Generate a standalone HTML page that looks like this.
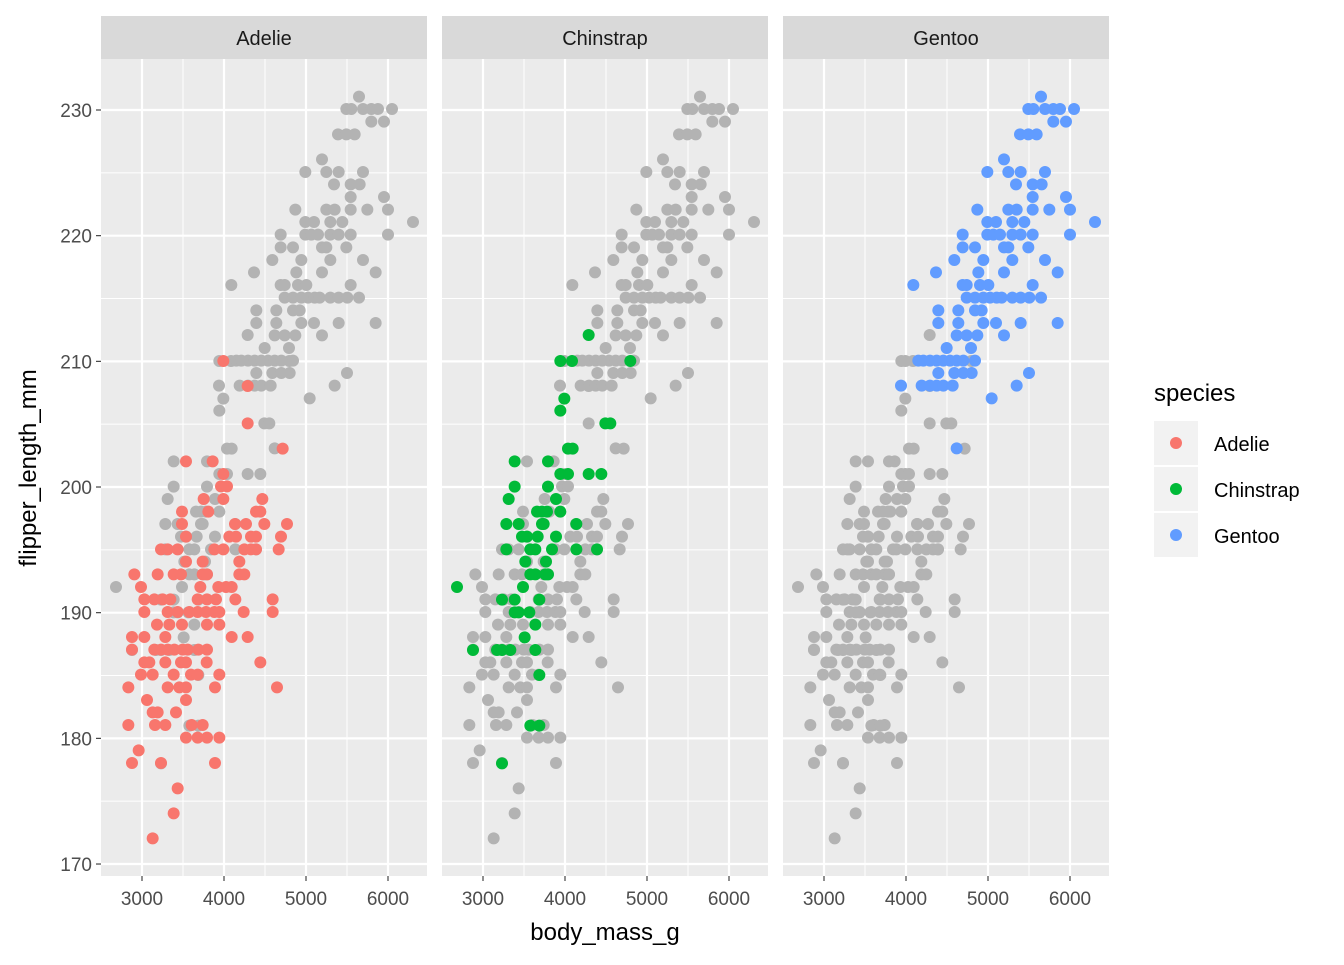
<!DOCTYPE html>
<html><head><meta charset="utf-8"><style>
html,body{margin:0;padding:0;background:#fff}
svg text{font-family:"Liberation Sans",Arial,sans-serif}
</style></head><body>
<svg id="s" width="1344" height="960" xmlns="http://www.w3.org/2000/svg"></svg>
<script>
const NS="http://www.w3.org/2000/svg";const S=document.getElementById('s');
function el(t,a,txt){const e=document.createElementNS(NS,t);for(const k in a)e.setAttribute(k,a[k]);if(txt!=null)e.textContent=txt;S.appendChild(e);return e;}
const A=[[63,[367]],[138,[440]],[250,[440]],[326,[545]],[364,[255,335]],[402,[367]],[439,[360,378]],[477,[308,367,484]],[515,[243,322,465,478]],[552,[243,402,435,490,558]],[590,[255,385,405,450,465,540]],[628,[180,200,230,340,367,430,450,465,533]],[665,[255,305,415]],[703,[100,170,218,240,305,318,415,430]],[741,[120,298,352,375,392]],[778,[130,160,185,208,290,318,345,403,515]],[816,[130,200,230,265,290,315,340,355,428,515]],[854,[168,205,243,318,355]],[891,[93,130,193,392,440]],[929,[93,160,180,200,220,245,260,292,318]],[967,[130,145,193,240,255,317,478]],[1004,[120,155,218,270,290,355]],[1042,[82,200,235,255,342,528]],[1080,[138,255]],[1117,[155,170,225]],[1155,[82,162,193,272,305]],[1193,[255,290,318,355]],[1231,[113]],[1269,[93,180,342]],[1345,[230]],[1420,[218]],[1495,[155]]];
const C=[[45,[440]],[123,[355,390,565]],[236,[367]],[272,[355]],[310,[490,505]],[386,[378,392]],[424,[218,318]],[462,[355,378,440,478]],[500,[218,318]],[537,[200,342]],[575,[285,300,315,355]],[612,[193,230,300,305,403]],[650,[240,255,287,342]],[688,[193,265,280,330,403,465]],[725,[250,312]],[763,[265,280,310,318]],[801,[45,243]],[839,[180,218,292]],[877,[218,230,262]],[914,[280]],[952,[248]],[990,[93,165,180,205,280]],[1065,[292]],[1217,[265,292]],[1330,[180]]];
const G=[[35,[453]],[72,[415,430,465,490,510,552]],[110,[490,528]],[148,[390,415,440]],[223,[342]],[261,[292,355,392,465]],[298,[378,428,455]],[336,[428,528]],[374,[262,355,380,428,478,540]],[411,[292,318,367,403,615]],[449,[218,292,310,330,367,392,428,540]],[487,[218,255,342,355,415]],[525,[193,280,367,465]],[562,[138,265,342,503]],[600,[70,218,230,270,295,428]],[638,[230,255,280,300,320,335,367,392,418,453]],[676,[145,205,255,275]],[714,[145,205,280,318,392,503]],[751,[200,230,262,342]],[789,[170,243]],[827,[85,100,120,140,160,180,200,220,255]],[864,[145,193,220,245,417]],[902,[33,95,120,140,160,188,380]],[940,[305]],[1090,[200]]];
function conv(d,ox,oy){const r=[];d.forEach(([zy,xs])=>xs.forEach(zx=>r.push([ox+zx/3,oy+zy/3])));return r;}
const P=[conv(A,101,340),conv(C,101,320),conv(G,208,85)];
const cols=["#F8766D","#00BA38","#619CFF"];
const names=["Adelie","Chinstrap","Gentoo"];
const offs=[0,341,682];
const yv=v=>110+(230-v)*12.567;
const xv=v=>142+(v-3000)*0.082;
for(let p=0;p<3;p++){
 const o=offs[p],L=101+o,R=427+o;
 el('rect',{x:L,y:59,width:326,height:817,fill:'#EBEBEB'});
 for(let v=175;v<=225;v+=10)el('line',{x1:L,x2:R,y1:yv(v),y2:yv(v),stroke:'#fff','stroke-width':1});
 for(let v=3500;v<=5500;v+=1000)el('line',{x1:xv(v)+o,x2:xv(v)+o,y1:59,y2:876,stroke:'#fff','stroke-width':1});
 for(let v=170;v<=230;v+=10)el('line',{x1:L,x2:R,y1:yv(v),y2:yv(v),stroke:'#fff','stroke-width':2.2});
 for(let v=3000;v<=6000;v+=1000)el('line',{x1:xv(v)+o,x2:xv(v)+o,y1:59,y2:876,stroke:'#fff','stroke-width':2.2});
 el('rect',{x:L,y:16,width:326,height:43,fill:'#D9D9D9'});
 el('text',{x:L+163,y:45,'text-anchor':'middle','font-size':20,fill:'#1A1A1A'},names[p]);
 for(let q=0;q<3;q++)if(q!==p)P[q].forEach(([x,y])=>el('circle',{cx:x+o,cy:y,r:6,fill:'#B3B3B3'}));
 P[p].forEach(([x,y])=>el('circle',{cx:x+o,cy:y,r:6,fill:cols[p]}));
 for(let v=3000;v<=6000;v+=1000){el('line',{x1:xv(v)+o,x2:xv(v)+o,y1:876,y2:881,stroke:'#333','stroke-width':1.1});
  el('text',{x:xv(v)+o,y:905,'text-anchor':'middle','font-size':19,fill:'#4D4D4D'},v);}
}
for(let v=170;v<=230;v+=10){el('line',{x1:96,x2:101,y1:yv(v),y2:yv(v),stroke:'#333','stroke-width':1.1});
 el('text',{x:92,y:yv(v)+7,'text-anchor':'end','font-size':19,fill:'#4D4D4D'},v);}
el('text',{x:605,y:940,'text-anchor':'middle','font-size':24,fill:'#000'},'body_mass_g');
el('text',{x:0,y:0,transform:'translate(36,468) rotate(-90)','text-anchor':'middle','font-size':24,fill:'#000'},'flipper_length_mm');
el('text',{x:1154,y:401,'font-size':24,fill:'#000'},'species');
for(let i=0;i<3;i++){const y=421+i*46;
 el('rect',{x:1154,y:y,width:44,height:44,fill:'#F2F2F2'});
 el('circle',{cx:1176,cy:y+22,r:6,fill:cols[i]});
 el('text',{x:1214,y:y+30,'font-size':20,fill:'#000'},names[i]);}
</script>
</body></html>
